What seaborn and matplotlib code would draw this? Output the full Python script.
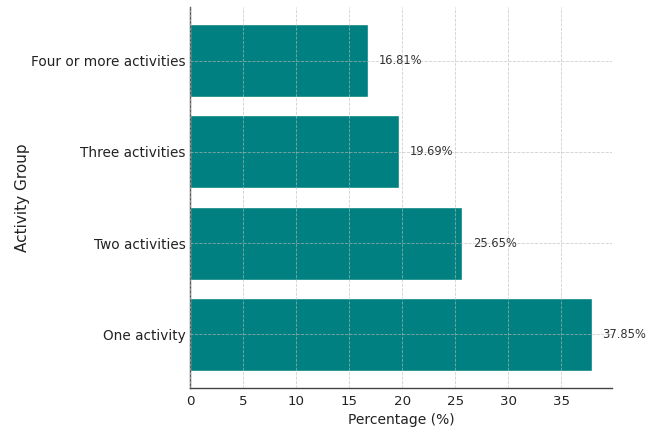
import matplotlib
matplotlib.use("Agg")
import matplotlib.pyplot as plt
import seaborn as sns
import pandas as pd

categories = ["Four or more activities", "Three activities", "Two activities", "One activity"]
percentages = [16.81, 19.69, 25.65, 37.85]

df = pd.DataFrame({"Activity Group": categories, "Percentage": percentages})

sns.set_style("ticks")
plt.rcParams["font.family"] = ["DejaVu Sans"]

fig = plt.figure(figsize=(6.46, 4.29), dpi=100)
ax = fig.add_axes([0.294, 0.0956, 0.653, 0.888])

sns.barplot(data=df, x="Percentage", y="Activity Group", color="#008080",
            saturation=1, width=0.8, ax=ax)

for i, v in enumerate(percentages):
    ax.text(v + 1.0, i, f"{v:.2f}%", va="center", ha="left", fontsize=8.3, color="#333333")

ax.set_xlim(0, 39.74)
ax.set_ylim(3.59, -0.59)
ax.set_xticks([0, 5, 10, 15, 20, 25, 30, 35])
ax.grid(True, linestyle="--", color="#bbbbbb", linewidth=0.6, alpha=0.7)
ax.set_axisbelow(False)
ax.tick_params(axis="x", labelsize=9.6, colors="#222222", length=0, pad=5)
ax.tick_params(axis="y", labelsize=9.8, colors="#222222", length=0, pad=3)
ax.set_xlabel("Percentage (%)", fontsize=10, color="#222222", labelpad=3.5)
ax.set_ylabel("Activity Group", fontsize=11, color="#222222", labelpad=1)
sns.despine(ax=ax)
for s in ["left", "bottom"]:
    ax.spines[s].set_color("#444444")
    ax.spines[s].set_linewidth(1.0)

fig.savefig("out.png", dpi=100)
